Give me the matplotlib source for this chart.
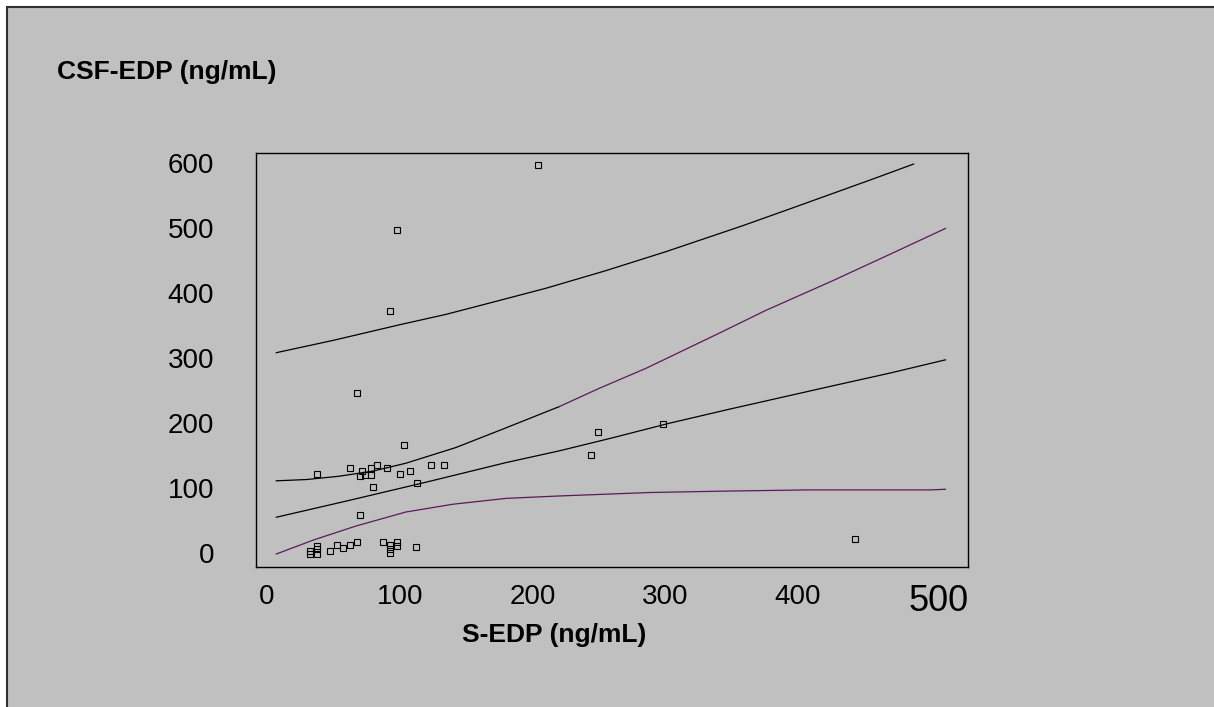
import numpy as np
import matplotlib.pyplot as plt
from matplotlib.patches import Rectangle
from matplotlib.transforms import ScaledTranslation

plt.rcParams['font.family'] = ['Liberation Sans', 'DejaVu Sans']

# scatter data (S-EDP, CSF-EDP)
s_edp = [37.6, 62.6, 71.4, 70, 74, 78, 78, 83, 90, 103, 100, 108, 123.5, 133, 113, 80, 70,
         203.8, 98, 92.5, 67.4, 249.4, 244.4, 298, 443,
         32.3, 32.3, 37.4, 37.4, 37.4, 47.4, 52.9, 57.4, 62.4, 67.4, 87.4, 92.5, 92.5, 92.5,
         98, 98, 112.5]
csf_edp = [121.5, 131, 126, 118, 120, 130, 120, 136, 131, 166, 121.5, 126, 136, 135, 107, 101.5, 58,
           597, 497, 372, 246, 186, 151, 198, 21.5,
           3.5, -1.5, 10.8, 5.6, -1.5, 3, 12.3, 8.2, 11.8, 16.4, 16.4, 12.3, 5.6, -0.5,
           16.4, 11.3, 8.7]

# curves
upper_x = [7, 50, 100, 135, 167, 210, 255, 300, 358, 391, 421, 455, 487]
upper_y = [308, 327, 351, 367, 384, 407, 434, 463, 503, 527, 549, 574, 598]

convex_x = [7, 30, 54, 80, 104.5, 142, 177, 220, 250, 285.5, 340.6, 375.7, 425.4, 470, 511]
convex_y = [111, 113, 118, 126, 138, 162, 190, 225, 253, 284, 338, 373, 418, 460, 499]

fit_x = [7, 60, 120, 180, 220, 260, 303, 348, 426, 470, 511]
fit_y = [55, 80, 109, 139, 157, 177, 199.5, 221, 257, 277, 297]

lower_x = [7, 35, 67, 104.5, 140, 180, 220, 288, 340.6, 405.8, 498.5, 511]
lower_y = [-1.5, 20, 41.5, 63, 75, 84, 87.7, 93, 95, 97, 97, 98]

xticks = [0, 100, 200, 300, 400, 500]
yticks = [0, 100, 200, 300, 400, 500, 600]

W, H = 1214, 707
fig = plt.figure(figsize=(W / 100, H / 100), dpi=100)
fig.patch.set_facecolor('white')

# grey frame, cut off at right and bottom
fig.patches.append(Rectangle((7 / W, -0.1), 1.2, 1 - 7 / H + 0.1, transform=fig.transFigure,
                             facecolor='#c0c0c0', edgecolor='#303030', linewidth=1.5, zorder=-5))

ax = fig.add_axes([256 / W, 1 - 567 / H, 712 / W, 414 / H])
ax.set_zorder(2)
ax.set_facecolor('#c0c0c0')
for sp in ax.spines.values():
    sp.set_color('black')
    sp.set_linewidth(1.0)

purple = '#5a1a5a'
ax.plot(upper_x, upper_y, color='black', lw=0.9)
cx = np.array(convex_x)
cy = np.array(convex_y)
k = 7  # colour changes around x=220
ax.plot(cx[:k + 1], cy[:k + 1], color='black', lw=0.9)
ax.plot(cx[k:], cy[k:], color=purple, lw=0.9)
ax.plot(fit_x, fit_y, color='black', lw=0.9)
ax.plot(lower_x, lower_y, color=purple, lw=0.9)
ax.plot(s_edp, csf_edp, ls='none', marker='s', ms=4.3, mfc='none', mec='black', mew=0.8)

ax.set_xlim(-8.3, 528)
ax.set_ylim(-21.5, 615)
ax.set_xticks(xticks)
ax.set_yticks(yticks)
ax.set_xticklabels([str(t) for t in xticks])
ax.set_yticklabels([str(t) for t in yticks])
ax.tick_params(length=0, labelsize=20, colors='black')
ax.tick_params(axis='y', pad=30)
ax.tick_params(axis='x', pad=12)
last = ax.get_xticklabels()[-1]
last.set_fontsize(26)
last.set_transform(last.get_transform() + ScaledTranslation(8 / 100, 0, fig.dpi_scale_trans))

fig.text(57 / W, 1 - 72 / H, 'CSF-EDP (ng/mL)', fontsize=19, fontweight='bold',
         ha='left', va='center')
fig.text(554 / W, 1 - 635 / H, 'S-EDP (ng/mL)', fontsize=19, fontweight='bold',
         ha='center', va='center')

plt.savefig('out.png', dpi=100)
